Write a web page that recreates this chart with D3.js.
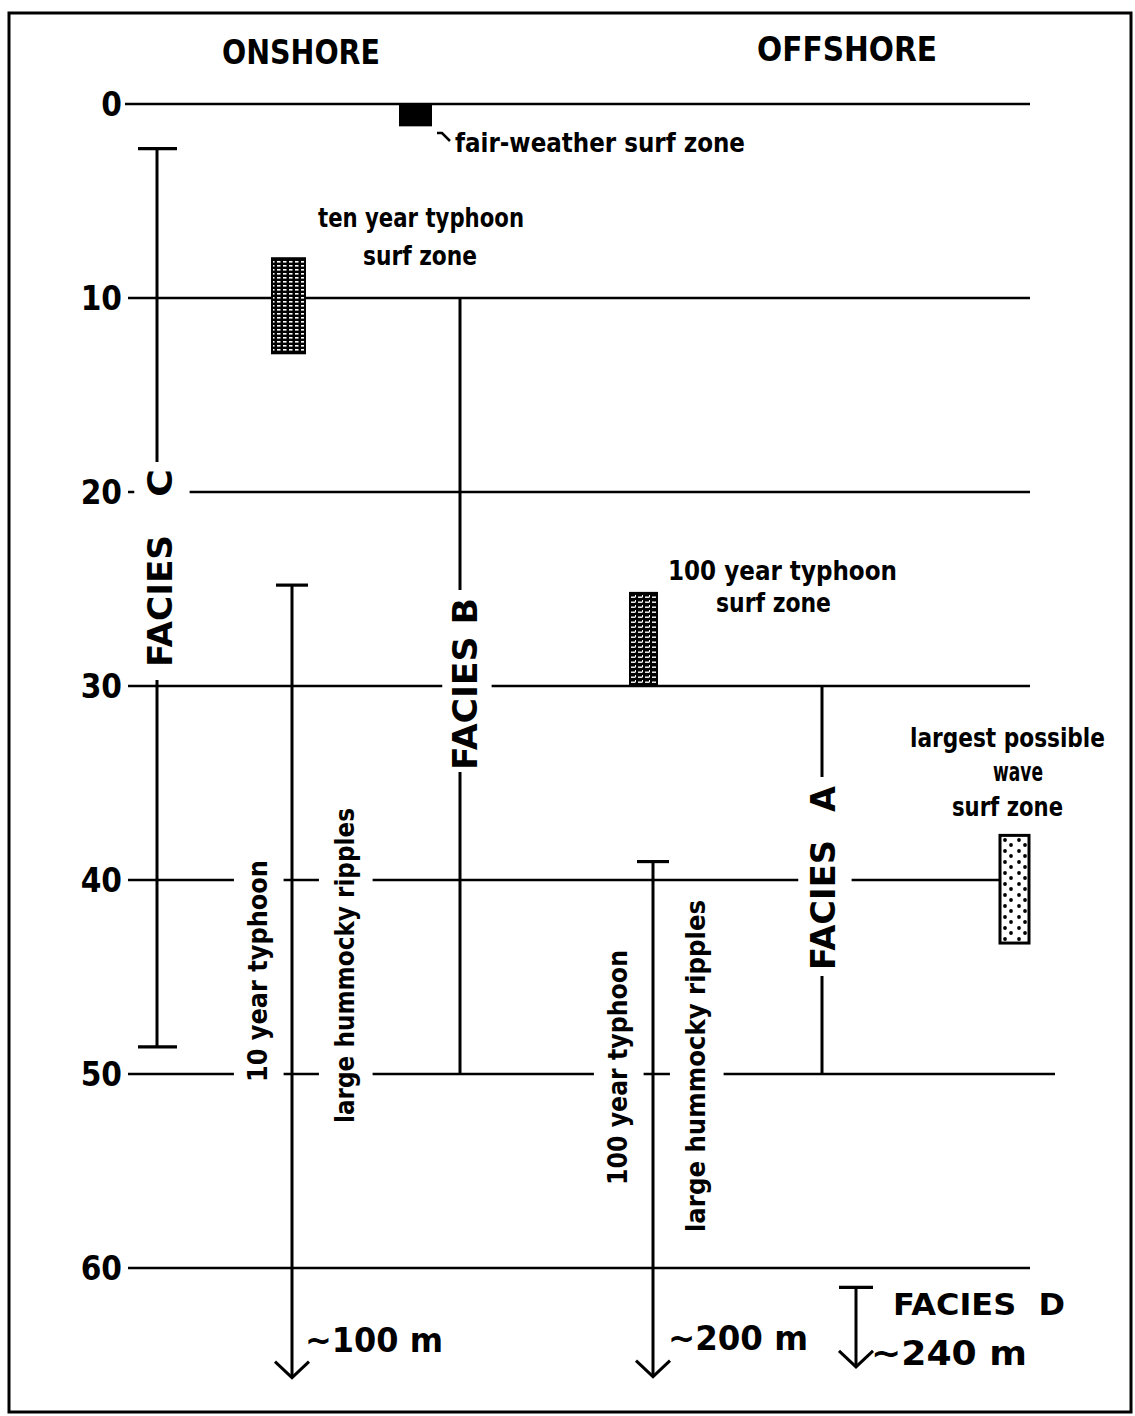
<!DOCTYPE html>
<html>
<head>
<meta charset="utf-8">
<script src="https://cdn.jsdelivr.net/npm/d3@7"></script>
<style>
  html, body { margin: 0; padding: 0; background: #fff; }
  svg { display: block; }
  .big { font-family: "DejaVu Sans", sans-serif; font-weight: bold; }
  .cond { font-family: "DejaVu Sans Condensed", "DejaVu Sans", sans-serif; font-stretch: condensed; font-weight: bold; }
  .small { font-family: "DejaVu Sans Condensed", "DejaVu Sans", sans-serif; font-stretch: condensed; font-weight: bold; }
</style>
</head>
<body>
<svg id="chart" width="1135" height="1416"></svg>
<script>
// ---------------- data ----------------
const depthTicks = [0, 10, 20, 30, 40, 50, 60];
const tickLabels = ["0", "10", "20", "30", "40", "50", "60"];

const headings = ["ONSHORE", "OFFSHORE"];

const faciesNames = ["FACIES C", "FACIES B", "FACIES A"];
const faciesTop = [2.3, 10, 30];
const faciesBottom = [48.6, 50, 50];

const zoneNames = ["fair-weather surf zone", "ten year typhoon surf zone", "100 year typhoon surf zone", "largest possible wave surf zone"];
const zoneTop = [0, 7.95, 25.2, 37.7];
const zoneBottom = [1.1, 12.85, 30, 43.25];

const rippleNames = ["10 year typhoon", "100 year typhoon", "FACIES D"];
const rippleTop = [24.8, 39.05, 61.0];
const rippleEnd = [65.65, 65.6, 65.1];
const rippleDepth = ["~100 m", "~200 m", "~240 m"];

// ---------------- layout ----------------
const W = 1135, H = 1416;
const svg = d3.select("#chart");
const y = d3.scaleLinear().domain([0, 60]).range([104, 1268]);
const axis = d3.axisLeft(y).tickValues(depthTicks).tickFormat((d, i) => tickLabels[i]).tickSize(0).tickPadding(0);

const gridX0 = 128, gridX1 = 1030;
const faciesX = [157, 460, 822];
const zoneX = [[400, 431], [272, 305], [630, 657], [1000, 1029]];
const rippleX = [292, 653, 856];

// patterns
const defs = svg.append("defs");
const p1 = defs.append("pattern").attr("id", "pTen").attr("patternUnits", "userSpaceOnUse")
  .attr("width", 6).attr("height", 4);
p1.append("rect").attr("width", 6).attr("height", 4).attr("fill", "#000");
p1.append("rect").attr("x", 1).attr("y", 1).attr("width", 3.5).attr("height", 1.6).attr("fill", "#fff");
const p2 = defs.append("pattern").attr("id", "pHund").attr("patternUnits", "userSpaceOnUse")
  .attr("width", 7).attr("height", 5);
p2.append("rect").attr("width", 7).attr("height", 5).attr("fill", "#000");
p2.append("rect").attr("x", 1).attr("y", 1.5).attr("width", 4.5).attr("height", 1.4).attr("fill", "#fff");
p2.append("rect").attr("x", 5).attr("y", 0).attr("width", 1).attr("height", 2).attr("fill", "#fff");
const p3 = defs.append("pattern").attr("id", "pDots").attr("patternUnits", "userSpaceOnUse")
  .attr("width", 14).attr("height", 11).attr("x", 1000).attr("y", 836);
p3.append("rect").attr("width", 14).attr("height", 11).attr("fill", "#fff");
p3.append("circle").attr("cx", 5).attr("cy", 4).attr("r", 1.9).attr("fill", "#000");
p3.append("circle").attr("cx", 11).attr("cy", 9).attr("r", 1.9).attr("fill", "#000");

svg.append("rect").attr("width", W).attr("height", H).attr("fill", "#fff");
// frame
svg.append("rect").attr("x", 9).attr("y", 13).attr("width", 1122).attr("height", 1399)
  .attr("fill", "none").attr("stroke", "#000").attr("stroke-width", 3);

// headings
const headX = [301, 847];
svg.selectAll("text.head").data(headings).join("text").attr("class", "head big")
  .attr("x", (d, i) => headX[i]).attr("y", (d, i) => i ? 61 : 64)
  .attr("text-anchor", "middle").attr("font-size", 34)
  .attr("textLength", (d, i) => i ? 180 : 158).attr("lengthAdjust", "spacingAndGlyphs")
  .text(d => d);

// axis (labels only)
const ax = svg.append("g").attr("transform", "translate(122,0)").call(axis);
ax.select(".domain").remove();
ax.selectAll("text").attr("class", "cond").attr("font-size", 33).attr("fill", "#000")
  .attr("dy", "0.36em").attr("font-family", null).attr("font-weight", "bold");

// grid lines
svg.append("g").selectAll("line").data(depthTicks).join("line")
  .attr("x1", d => d === 0 ? 125 : gridX0).attr("x2", d => d === 50 ? 1055 : gridX1)
  .attr("y1", d => y(d)).attr("y2", d => y(d))
  .attr("stroke", "#000").attr("stroke-width", 2.6);

// facies range lines
const fg = svg.append("g");
faciesNames.forEach((n, i) => {
  fg.append("line").attr("x1", faciesX[i]).attr("x2", faciesX[i])
    .attr("y1", y(faciesTop[i])).attr("y2", y(faciesBottom[i]))
    .attr("stroke", "#000").attr("stroke-width", 3);
  if (i === 0) {
    [faciesTop[i], faciesBottom[i]].forEach(v => {
      fg.append("line").attr("x1", faciesX[i] - 19).attr("x2", faciesX[i] + 20)
        .attr("y1", y(v)).attr("y2", y(v)).attr("stroke", "#000").attr("stroke-width", 3.2);
    });
  }
});

// ripple arrows
const rg = svg.append("g");
rippleNames.forEach((n, i) => {
  const x = rippleX[i], yt = y(rippleTop[i]), ye = y(rippleEnd[i]);
  const capW = i === 2 ? 17 : 16;
  rg.append("line").attr("x1", x - capW).attr("x2", x + capW).attr("y1", yt).attr("y2", yt)
    .attr("stroke", "#000").attr("stroke-width", 3.2);
  rg.append("line").attr("x1", x).attr("x2", x).attr("y1", yt).attr("y2", ye)
    .attr("stroke", "#000").attr("stroke-width", 3);
  rg.append("path").attr("d", `M${x - 17},${ye - 16} L${x},${ye} L${x + 17},${ye - 16}`)
    .attr("fill", "none").attr("stroke", "#000").attr("stroke-width", 3);
});

// surf zone boxes
const fills = ["#000", "url(#pTen)", "url(#pHund)", "url(#pDots)"];
svg.append("g").selectAll("rect").data(zoneNames).join("rect")
  .attr("x", (d, i) => zoneX[i][0]).attr("width", (d, i) => zoneX[i][1] - zoneX[i][0])
  .attr("y", (d, i) => y(zoneTop[i])).attr("height", (d, i) => y(zoneBottom[i]) - y(zoneTop[i]))
  .attr("fill", (d, i) => fills[i]).attr("stroke", "#000").attr("stroke-width", (d, i) => i === 3 ? 3 : 2);

// leader for fair-weather
svg.append("path").attr("d", "M437,133 L442,133 L450,141").attr("fill", "none")
  .attr("stroke", "#000").attr("stroke-width", 2.5);

// horizontal small labels
function small(x, yy, txt, len, anchor) {
  svg.append("text").attr("class", "small").attr("x", x).attr("y", yy)
    .attr("font-size", 26).attr("text-anchor", anchor || "start")
    .attr("textLength", len).attr("lengthAdjust", "spacingAndGlyphs").text(txt);
}
small(455, 152, "fair-weather surf zone", 290);
small(318, 227, "ten year typhoon", 206);
small(363, 265, "surf zone", 114);
small(668, 580, "100  year typhoon", 229);
small(716, 612, "surf zone", 115);
small(910, 747, "largest possible", 195);
small(993, 781, "wave", 50);
small(952, 816, "surf zone", 111);

// rotated labels with white knock-out
function vlabel(xb, parts, y0, y1, cls, fs, padX, padY) {
  const g = svg.append("g");
  g.append("rect").attr("x", xb - fs * 0.78 - padX).attr("width", fs * 0.95 + padX * 2)
    .attr("y", y1 - padY).attr("height", y0 - y1 + padY * 2).attr("fill", "#fff");
  parts.forEach(p => {
    g.append("text").attr("class", cls).attr("font-size", fs)
      .attr("transform", `translate(${xb},${p.start}) rotate(-90)`)
      .attr("textLength", p.len).attr("lengthAdjust", "spacingAndGlyphs").text(p.t);
  });
}
// facies labels
vlabel(172, [{ t: "FACIES", start: 667, len: 132 }, { t: "C", start: 497, len: 28 }], 680, 462, "big", 33, 12, 0);
vlabel(477, [{ t: "FACIES B", start: 770, len: 172 }], 772, 590, "big", 33, 9, 0);
vlabel(835, [{ t: "FACIES", start: 970, len: 130 }, { t: "A", start: 812, len: 26 }], 976, 777, "big", 33, 11, 0);
// ripple labels
vlabel(267, [{ t: rippleNames[0], start: 1082, len: 222 }], 1082, 860, "small", 27, 12, 6);
vlabel(354, [{ t: "large hummocky ripples", start: 1123, len: 315 }], 1123, 808, "small", 27, 14, 6);
vlabel(627, [{ t: rippleNames[1], start: 1185, len: 235 }], 1185, 950, "small", 27, 12, 6);
vlabel(705, [{ t: "large hummocky ripples", start: 1232, len: 332 }], 1232, 900, "small", 27, 14, 6);

// facies D and depth labels
svg.append("text").attr("class", "big").attr("x", 893).attr("y", 1315).attr("font-size", 31)
  .attr("textLength", 172).attr("lengthAdjust", "spacingAndGlyphs").style("white-space", "pre")
  .text("FACIES  D");
const depthLabX = [305, 668, 871];
const depthLabY = [1352, 1350, 1365];
const depthLabLen = [138, 140, 156];
svg.append("g").selectAll("text").data(rippleDepth).join("text").attr("class", "big")
  .attr("x", (d, i) => depthLabX[i]).attr("y", (d, i) => depthLabY[i]).attr("font-size", 33)
  .attr("textLength", (d, i) => depthLabLen[i]).attr("lengthAdjust", "spacingAndGlyphs")
  .text(d => d);
</script>
</body>
</html>
